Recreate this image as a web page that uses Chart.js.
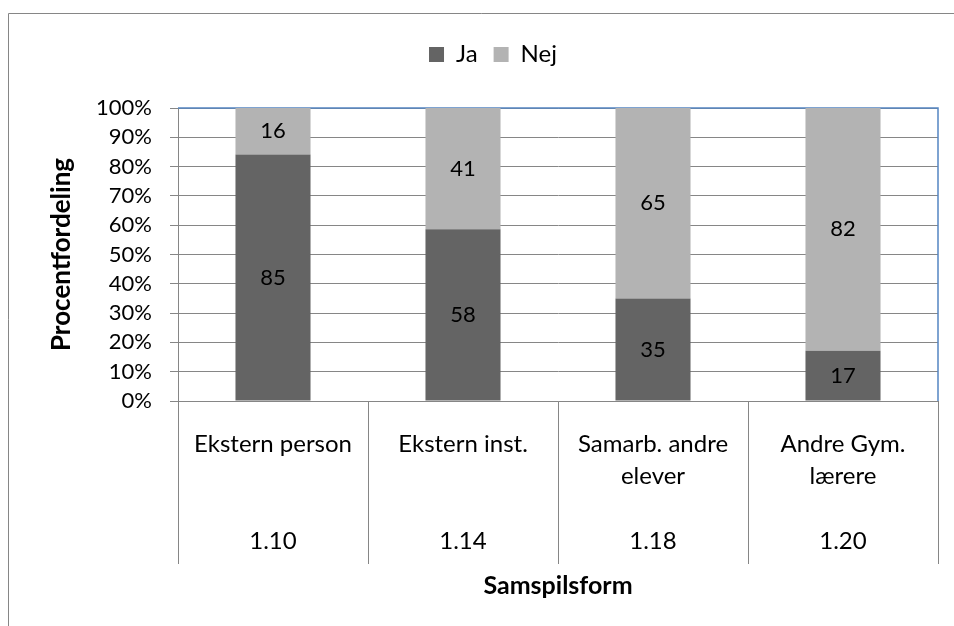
<!DOCTYPE html>
<html>
<head>
<meta charset="utf-8">
<script src="https://cdn.jsdelivr.net/npm/chart.js@4/dist/chart.umd.min.js"></script>
<style>
  html, body { margin: 0; padding: 0; background: #ffffff; }
  canvas { display: block; }
</style>
</head>
<body>
<canvas id="c" width="954" height="626"></canvas>
<script>
// Samspilsform categories (first line(s) of label, then item number)
const categoryNames = [['Ekstern person'], ['Ekstern inst.'], ['Samarb. andre', 'elever'], ['Andre Gym.', 'lærere']];
const itemNumbers = ['1.10', '1.14', '1.18', '1.20'];
// Answer counts per category
const jaValues = [85, 58, 35, 17];
const nejValues = [16, 41, 65, 82];
const yTicks = [0, 10, 20, 30, 40, 50, 60, 70, 80, 90, 100];

const FONT = 'Lato, "Open Sans", sans-serif';
const GRID = '#868686';

// Four-line tick labels: name lines, blank padding, item number on the last line
const labels = categoryNames.map((lines, i) => {
  const out = lines.slice();
  while (out.length < 3) out.push('');
  out.push(itemNumbers[i]);
  return out;
});

// 100 % stacked: each series as a share of the category total
const totals = jaValues.map((v, i) => v + nejValues[i]);
const toPct = arr => arr.map((v, i) => v / totals[i] * 100);

const frame = {
  id: 'frame',
  afterLayout(chart) {
    // centre the legend row over the plot like the surrounding frame
    const lg = chart.legend;
    lg.left += 24;
    lg.right += 24;
  },
  beforeDraw(chart) {
    const ctx = chart.ctx;
    ctx.save();
    ctx.strokeStyle = GRID;
    ctx.lineWidth = 1;
    ctx.beginPath();
    ctx.moveTo(8.5, 626);
    ctx.lineTo(8.5, 13.5);
    ctx.lineTo(954, 13.5);
    ctx.stroke();
    ctx.restore();
  },
  beforeDatasetsDraw(chart) {
    const { ctx, chartArea: a } = chart;
    ctx.save();
    ctx.strokeStyle = '#5485c2';
    ctx.lineWidth = 1.5;
    ctx.beginPath();
    ctx.moveTo(a.left, a.top);
    ctx.lineTo(a.right, a.top);
    ctx.lineTo(a.right, a.bottom);
    ctx.stroke();
    ctx.restore();
  },
  afterDatasetsDraw(chart) {
    const ctx = chart.ctx;
    ctx.save();
    ctx.font = '22px ' + FONT;
    ctx.fillStyle = '#000000';
    ctx.textAlign = 'center';
    ctx.textBaseline = 'middle';
    chart.data.datasets.forEach((ds, di) => {
      chart.getDatasetMeta(di).data.forEach((bar, i) => {
        ctx.fillText(String(ds.raw[i]), bar.x, (bar.y + bar.base) / 2);
      });
    });
    ctx.restore();
  }
};

const legendSpace = {
  id: 'legendSpace',
  beforeInit(chart) {
    const fit = chart.legend.fit;
    chart.legend.fit = function () {
      fit.call(this);
      this.height += 31.5;
    };
  }
};

new Chart(document.getElementById('c'), {
  type: 'bar',
  data: {
    labels: labels,
    datasets: [
      { label: 'Ja', data: toPct(jaValues), raw: jaValues, backgroundColor: '#646464' },
      { label: 'Nej', data: toPct(nejValues), raw: nejValues, backgroundColor: '#b3b3b3' }
    ]
  },
  options: {
    responsive: false,
    animation: false,
    devicePixelRatio: 1,
    layout: { padding: { left: 0, top: 26.5, right: 16, bottom: 0 } },
    datasets: { bar: { barPercentage: 0.395, categoryPercentage: 1 } },
    plugins: {
      legend: {
        position: 'top',
        labels: {
          boxWidth: 15, boxHeight: 15, padding: 16,
          color: '#000000', font: { family: FONT, size: 24 }
        }
      },
      tooltip: { enabled: false }
    },
    scales: {
      x: {
        stacked: true,
        border: { color: GRID, width: 1 },
        grid: { offset: true, drawOnChartArea: false, drawTicks: true, tickLength: 163, color: GRID },
        ticks: {
          color: '#000000', font: { family: FONT, size: 24, lineHeight: '32.3px' },
          padding: -136, maxRotation: 0, autoSkip: false
        },
        title: {
          display: true, text: 'Samspilsform', color: '#000000',
          font: { family: FONT, size: 25, weight: 'bold' },
          padding: { top: 0, bottom: 25 }
        },
        afterFit(s) { s.height = 225; }
      },
      y: {
        stacked: true,
        min: 0, max: 100,
        border: { color: GRID, width: 1 },
        grid: { color: GRID, tickLength: 8, drawTicks: true },
        afterBuildTicks(s) { s.ticks = yTicks.map(v => ({ value: v })); },
        ticks: {
          color: '#000000', font: { family: FONT, size: 22 }, padding: 18,
          autoSkip: false,
          callback: v => v + '%'
        },
        title: {
          display: true, text: 'Procentfordeling', color: '#000000',
          font: { family: FONT, size: 26, weight: 'bold' },
          padding: { top: 46, bottom: 0 }
        },
        afterFit(s) { s.width = 178; }
      }
    }
  },
  plugins: [frame, legendSpace]
});
</script>
</body>
</html>
